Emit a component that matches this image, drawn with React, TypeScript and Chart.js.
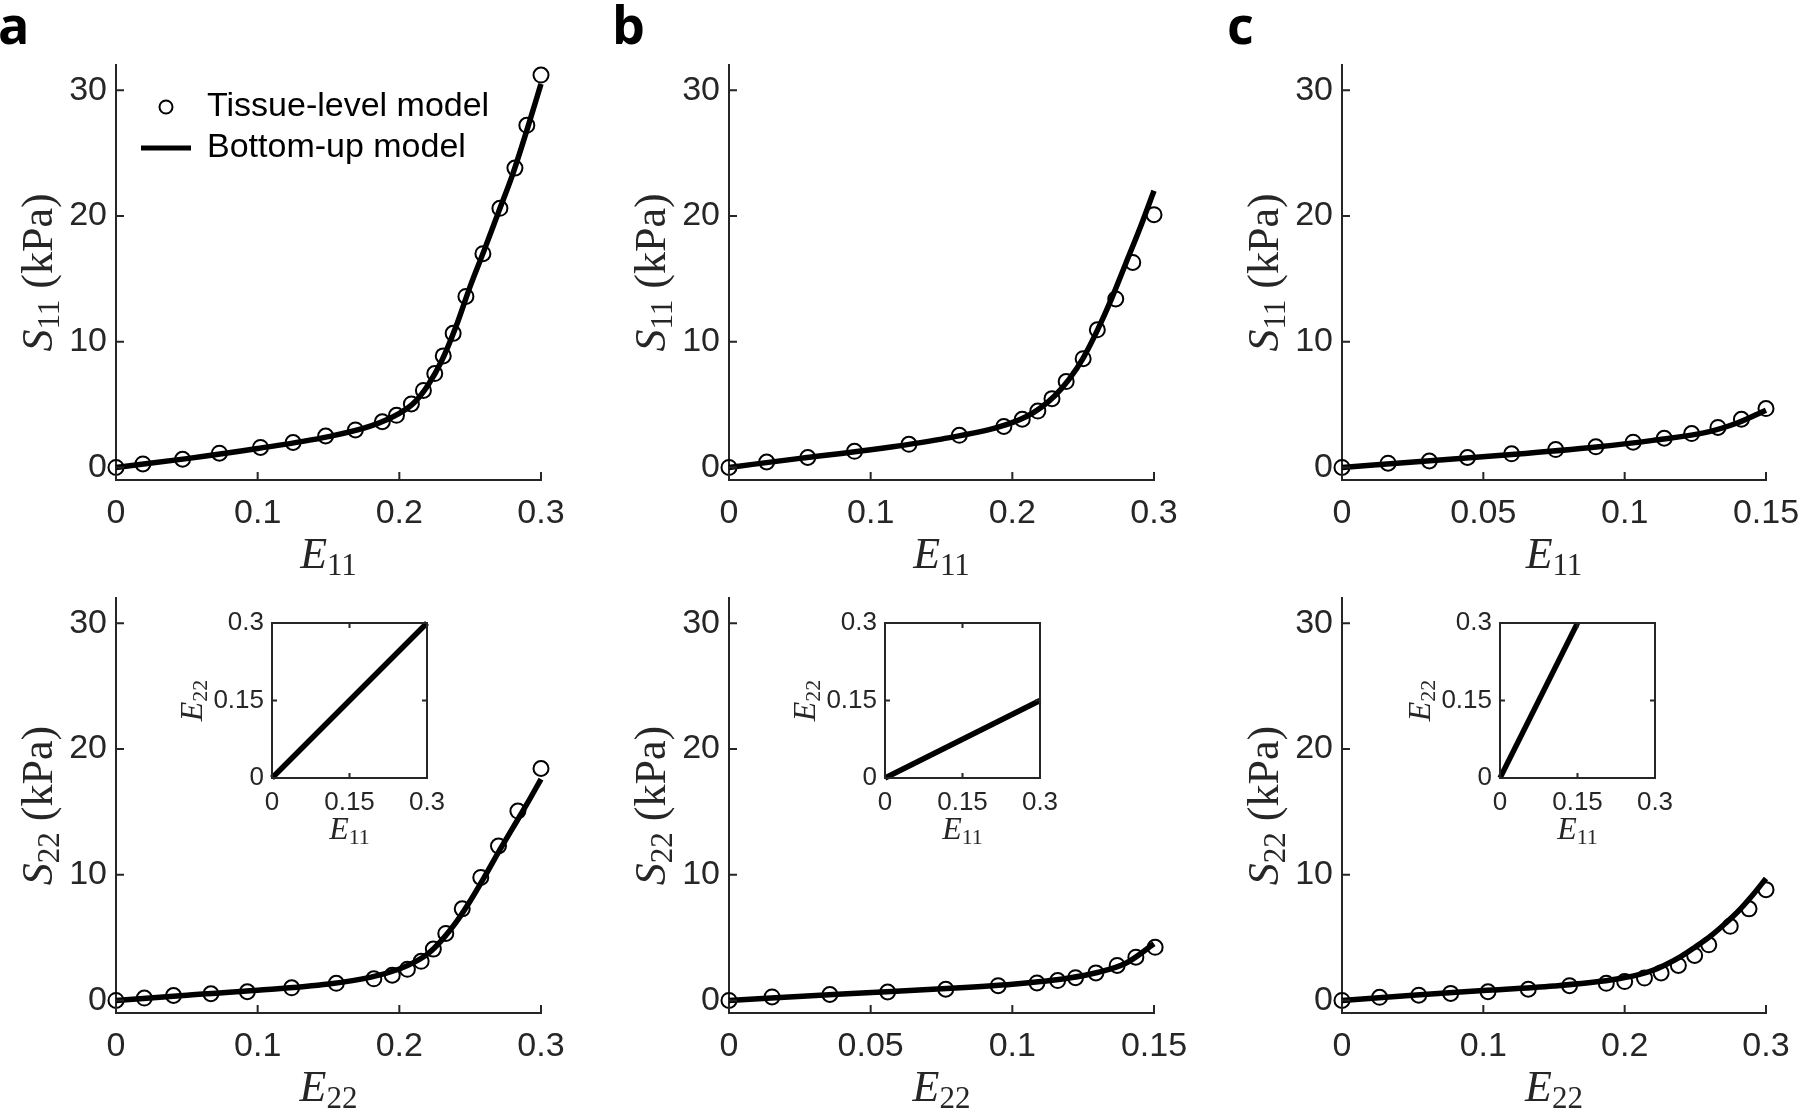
import React, { useEffect, useRef } from 'react';
import { Chart, registerables } from 'chart.js';

Chart.register(...registerables);

// ---------------- data ----------------
// panel a, top: S11 vs E11
const aTopTissueE11 = [0, 0.019, 0.047, 0.073, 0.102, 0.125, 0.148, 0.169, 0.188, 0.198, 0.2085, 0.217, 0.225, 0.231, 0.238, 0.247, 0.259, 0.271, 0.2816, 0.29, 0.3];
const aTopTissueS11 = [0, 0.28, 0.65, 1.13, 1.59, 1.98, 2.5, 2.98, 3.63, 4.14, 5.05, 6.12, 7.46, 8.87, 10.66, 13.6, 17.0, 20.6, 23.8, 27.2, 31.2];
const aTopModelE11 = [0, 0.05, 0.1, 0.15, 0.18, 0.2, 0.21, 0.22, 0.23, 0.24, 0.25, 0.26, 0.27, 0.28, 0.29, 0.3];
const aTopModelS11 = [0, 0.7, 1.5, 2.45, 3.3, 4.3, 5.1, 6.5, 8.5, 11.2, 14.4, 17.3, 20.3, 23.3, 26.8, 30.5];

// panel b, top: S11 vs E11
const bTopTissueE11 = [0, 0.0266, 0.0556, 0.0886, 0.127, 0.1626, 0.194, 0.207, 0.218, 0.228, 0.238, 0.25, 0.26, 0.273, 0.285, 0.3];
const bTopTissueS11 = [0, 0.43, 0.79, 1.28, 1.84, 2.55, 3.26, 3.83, 4.48, 5.47, 6.83, 8.65, 10.94, 13.4, 16.3, 20.1];
const bTopModelE11 = [0, 0.05, 0.1, 0.15, 0.19, 0.21, 0.22, 0.23, 0.24, 0.25, 0.26, 0.27, 0.28, 0.29, 0.3];
const bTopModelS11 = [0, 0.72, 1.4, 2.25, 3.2, 4.05, 4.75, 5.7, 7.0, 8.7, 10.9, 13.4, 16.2, 19.0, 22.0];

// panel c, top: S11 vs E11
const cTopTissueE11 = [0, 0.0163, 0.0309, 0.0444, 0.06, 0.0756, 0.0898, 0.103, 0.114, 0.1237, 0.133, 0.1413, 0.15];
const cTopTissueS11 = [0, 0.34, 0.51, 0.79, 1.08, 1.42, 1.64, 2.01, 2.32, 2.69, 3.18, 3.83, 4.68];
const cTopModelE11 = [0, 0.03, 0.06, 0.09, 0.11, 0.13, 0.14, 0.15];
const cTopModelS11 = [0, 0.52, 1.02, 1.62, 2.15, 2.85, 3.55, 4.55];

// panel a, bottom: S22 vs E22
const aBotTissueE22 = [0, 0.02, 0.0406, 0.067, 0.0927, 0.124, 0.1555, 0.182, 0.195, 0.2057, 0.2154, 0.224, 0.2328, 0.2444, 0.2575, 0.27, 0.2837, 0.3];
const aBotTissueS22 = [0, 0.19, 0.39, 0.53, 0.69, 1.0, 1.36, 1.72, 2.0, 2.47, 3.11, 4.08, 5.33, 7.28, 9.78, 12.28, 15.06, 18.44];
const aBotModelE22 = [0, 0.05, 0.1, 0.15, 0.18, 0.2, 0.21, 0.22, 0.23, 0.24, 0.25, 0.26, 0.27, 0.28, 0.29, 0.3];
const aBotModelS22 = [0, 0.42, 0.8, 1.3, 1.85, 2.5, 3.0, 3.7, 4.8, 6.2, 7.9, 9.8, 11.8, 13.7, 15.6, 17.6];

// panel b, bottom: S22 vs E22
const bBotTissueE22 = [0, 0.0152, 0.0356, 0.056, 0.0765, 0.095, 0.1087, 0.116, 0.1223, 0.1295, 0.137, 0.1436, 0.1504];
const bBotTissueS22 = [0, 0.28, 0.47, 0.67, 0.89, 1.17, 1.39, 1.58, 1.81, 2.19, 2.78, 3.44, 4.22];
const bBotModelE22 = [0, 0.04, 0.08, 0.1, 0.11, 0.12, 0.13, 0.14, 0.15];
const bBotModelS22 = [0, 0.52, 0.98, 1.28, 1.5, 1.78, 2.22, 2.95, 4.5];

// panel c, bottom: S22 vs E22
const cBotTissueE22 = [0, 0.0266, 0.0543, 0.0769, 0.1033, 0.1318, 0.161, 0.187, 0.2, 0.214, 0.2258, 0.238, 0.2495, 0.2595, 0.2747, 0.288, 0.3];
const cBotTissueS22 = [0, 0.25, 0.42, 0.56, 0.69, 0.89, 1.17, 1.36, 1.5, 1.78, 2.19, 2.78, 3.58, 4.42, 5.89, 7.28, 8.81];
const cBotModelE22 = [0, 0.05, 0.1, 0.15, 0.19, 0.21, 0.22, 0.23, 0.24, 0.25, 0.26, 0.27, 0.28, 0.29, 0.3];
const cBotModelS22 = [0, 0.42, 0.78, 1.15, 1.62, 2.05, 2.4, 2.9, 3.5, 4.25, 5.05, 6.0, 7.05, 8.3, 9.7];

// insets: E22 vs E11
const insetAE11 = [0, 0.3];
const insetAE22 = [0, 0.3];
const insetBE11 = [0, 0.3];
const insetBE22 = [0, 0.15];
const insetCE11 = [0, 0.15];
const insetCE22 = [0, 0.3];

// ticks & labels
const stressTicks = [0, 10, 20, 30];
const strainTicks03 = [0, 0.1, 0.2, 0.3];
const strainTicks015 = [0, 0.05, 0.1, 0.15];
const insetTicks = [0, 0.15, 0.3];
const legendLabels = ['Tissue-level model', 'Bottom-up model'];
const panelLetters = ['a', 'b', 'c'];

// ---------------- styling ----------------
const AXIS_COLOR = '#262626';
const SANS = '"Liberation Sans", Arial, Helvetica, sans-serif';
const SERIF = '"Liberation Serif", "Times New Roman", serif';
const BOLD = '"Open Sans", "Liberation Sans", sans-serif';

type Part = { t: string; it?: boolean; sub?: boolean };
const S11: Part[] = [{ t: 'S', it: true }, { t: '11', sub: true }, { t: ' (kPa)' }];
const S22: Part[] = [{ t: 'S', it: true }, { t: '22', sub: true }, { t: ' (kPa)' }];
const E11: Part[] = [{ t: 'E', it: true }, { t: '11', sub: true }];
const E22: Part[] = [{ t: 'E', it: true }, { t: '22', sub: true }];

const fmt = (v: number) => String(parseFloat(Number(v).toFixed(4)));
const pts = (xs: number[], ys: number[]) => xs.map((x, i) => ({ x, y: ys[i] }));

function drawParts(ctx: CanvasRenderingContext2D, parts: Part[], size: number, x: number, y: number) {
  const font = (p: Part) => `${p.it ? 'italic ' : ''}${p.sub ? Math.round(size * 0.7) : size}px ${SERIF}`;
  const widths = parts.map((p) => {
    ctx.font = font(p);
    return ctx.measureText(p.t).width;
  });
  const total = widths.reduce((a, b) => a + b, 0);
  let cx = x - total / 2;
  ctx.textAlign = 'left';
  ctx.textBaseline = 'alphabetic';
  parts.forEach((p, i) => {
    ctx.font = font(p);
    ctx.fillText(p.t, cx, y + (p.sub ? size * 0.16 : 0));
    cx += widths[i];
  });
}

function framePlugin(o: any) {
  return {
    id: 'frame',
    afterDraw(chart: any) {
      const ctx = chart.ctx as CanvasRenderingContext2D;
      const a = chart.chartArea;
      const xs = chart.scales.x;
      const ys = chart.scales.y;
      ctx.save();
      ctx.strokeStyle = AXIS_COLOR;
      ctx.lineWidth = 2;
      ctx.lineCap = 'butt';
      ctx.beginPath();
      for (const t of xs.ticks) {
        const px = xs.getPixelForValue(t.value);
        ctx.moveTo(px, a.bottom);
        ctx.lineTo(px, a.bottom - o.tick);
        if (o.box) {
          ctx.moveTo(px, a.top);
          ctx.lineTo(px, a.top + o.tick);
        }
      }
      for (const t of ys.ticks) {
        const py = ys.getPixelForValue(t.value);
        ctx.moveTo(a.left, py);
        ctx.lineTo(a.left + o.tick, py);
        if (o.box) {
          ctx.moveTo(a.right, py);
          ctx.lineTo(a.right - o.tick, py);
        }
      }
      ctx.stroke();
      if (o.box) ctx.strokeRect(a.left, a.top, a.right - a.left, a.bottom - a.top);

      ctx.fillStyle = AXIS_COLOR;
      drawParts(ctx, o.xTitle, o.titleSize, (a.left + a.right) / 2, a.bottom + o.xTitleGap);
      ctx.save();
      ctx.translate(a.left - o.yTitleGap, (a.top + a.bottom) / 2);
      ctx.rotate(-Math.PI / 2);
      drawParts(ctx, o.yTitle, o.titleSize, 0, 0);
      ctx.restore();

      if (o.legend) {
        const cx = a.left + 50;
        const y1 = a.top + 42;
        const y2 = a.top + 83;
        ctx.strokeStyle = '#000';
        ctx.lineWidth = 2;
        ctx.beginPath();
        ctx.arc(cx, y1, 6.5, 0, Math.PI * 2);
        ctx.stroke();
        ctx.lineWidth = 5;
        ctx.beginPath();
        ctx.moveTo(a.left + 25, y2);
        ctx.lineTo(a.left + 75, y2);
        ctx.stroke();
        ctx.fillStyle = '#000';
        ctx.font = `34px ${SANS}`;
        ctx.textAlign = 'left';
        ctx.textBaseline = 'middle';
        ctx.fillText(legendLabels[0], a.left + 91, y1);
        ctx.fillText(legendLabels[1], a.left + 91, y2);
      }
      if (o.letter) {
        ctx.fillStyle = '#000';
        ctx.font = `bold 52px ${BOLD}`;
        ctx.textAlign = 'left';
        ctx.textBaseline = 'alphabetic';
        ctx.fillText(o.letter.t, o.letter.x, o.letter.y);
      }
      ctx.restore();
    },
  };
}

function axis(min: number, max: number, ticks: number[], size: number, pad: number, fit: (s: any) => void) {
  return {
    type: 'linear',
    min,
    max,
    afterBuildTicks: (s: any) => {
      s.ticks = ticks.map((v) => ({ value: v }));
    },
    afterFit: fit,
    grid: { display: false, drawTicks: false },
    border: { display: true, color: AXIS_COLOR, width: 2 },
    ticks: {
      autoSkip: false,
      maxRotation: 0,
      minRotation: 0,
      padding: pad,
      color: AXIS_COLOR,
      font: { family: SANS, size },
      callback: (v: any) => fmt(Number(v)),
    },
  };
}

type Rect = { x: number; y: number; w: number; h: number };
type Area = { l: number; t: number; r: number; b: number };

function buildChart(canvas: HTMLCanvasElement, rect: Rect, area: Area, spec: any) {
  const yW = area.l - rect.x;
  const xH = rect.y + rect.h - area.b;
  return new Chart(canvas, {
    type: 'scatter',
    data: { datasets: spec.datasets },
    options: {
      responsive: false,
      animation: false,
      devicePixelRatio: 1,
      layout: { padding: { left: 0, top: area.t - rect.y, right: rect.x + rect.w - area.r, bottom: 0 } },
      plugins: { legend: { display: false }, tooltip: { enabled: false } },
      scales: {
        x: axis(spec.xMin, spec.xMax, spec.xTicks, spec.tickSize, spec.xPad, (s: any) => {
          s.height = xH;
          s.paddingLeft = 0;
          s.paddingRight = 0;
        }),
        y: axis(spec.yMin, spec.yMax, spec.yTicks, spec.tickSize, spec.yPad, (s: any) => {
          s.width = yW;
          s.paddingTop = 0;
          s.paddingBottom = 0;
        }),
      },
    } as any,
    plugins: [framePlugin(spec.frame)],
  } as any);
}

// ---------------- layout ----------------
const COLS = [
  { l: 116, r: 541, cx: 0, letterX: -2 },
  { l: 729, r: 1154, cx: 600, letterX: 12 },
  { l: 1342, r: 1766, cx: 1200, letterX: 27 },
];
const ROWS = [
  { t: 65, b: 480, y: 0, h: 600 },
  { t: 598, b: 1013, y: 540, h: 568 },
];
const INSET_L = [272, 885, 1500];
const INSET_T = 623;
const INSET_SIZE = 155;

const mainPanels = [
  { col: 0, row: 0, xMax: 0.3, xTicks: strainTicks03, tx: aTopTissueE11, ty: aTopTissueS11, mx: aTopModelE11, my: aTopModelS11, xTitle: E11, yTitle: S11, legend: true },
  { col: 1, row: 0, xMax: 0.3, xTicks: strainTicks03, tx: bTopTissueE11, ty: bTopTissueS11, mx: bTopModelE11, my: bTopModelS11, xTitle: E11, yTitle: S11 },
  { col: 2, row: 0, xMax: 0.15, xTicks: strainTicks015, tx: cTopTissueE11, ty: cTopTissueS11, mx: cTopModelE11, my: cTopModelS11, xTitle: E11, yTitle: S11 },
  { col: 0, row: 1, xMax: 0.3, xTicks: strainTicks03, tx: aBotTissueE22, ty: aBotTissueS22, mx: aBotModelE22, my: aBotModelS22, xTitle: E22, yTitle: S22 },
  { col: 1, row: 1, xMax: 0.15, xTicks: strainTicks015, tx: bBotTissueE22, ty: bBotTissueS22, mx: bBotModelE22, my: bBotModelS22, xTitle: E22, yTitle: S22 },
  { col: 2, row: 1, xMax: 0.3, xTicks: strainTicks03, tx: cBotTissueE22, ty: cBotTissueS22, mx: cBotModelE22, my: cBotModelS22, xTitle: E22, yTitle: S22 },
];

const insetPanels = [
  { col: 0, e11: insetAE11, e22: insetAE22 },
  { col: 1, e11: insetBE11, e22: insetBE22 },
  { col: 2, e11: insetCE11, e22: insetCE22 },
];

function ChartCanvas({ rect, build }: { rect: Rect; build: (c: HTMLCanvasElement) => Chart }) {
  const ref = useRef<HTMLCanvasElement>(null);
  useEffect(() => {
    const chart = build(ref.current as HTMLCanvasElement);
    return () => chart.destroy();
  }, []);
  return (
    <canvas
      ref={ref}
      width={rect.w}
      height={rect.h}
      style={{ position: 'absolute', left: rect.x, top: rect.y, width: rect.w, height: rect.h }}
    />
  );
}

function mainBuild(p: any) {
  const c = COLS[p.col];
  const r = ROWS[p.row];
  const rect: Rect = { x: c.cx, y: r.y, w: 600, h: r.h };
  const area: Area = { l: c.l, t: r.t, r: c.r, b: r.b };
  const spec = {
    xMin: 0,
    xMax: p.xMax,
    xTicks: p.xTicks,
    yMin: -1,
    yMax: 32,
    yTicks: stressTicks,
    tickSize: 34,
    xPad: 13,
    yPad: 9,
    datasets: [
      {
        type: 'scatter',
        data: pts(p.tx, p.ty),
        showLine: false,
        pointStyle: 'circle',
        pointRadius: 7.5,
        pointBorderWidth: 2,
        pointBorderColor: '#000',
        pointBackgroundColor: 'rgba(0,0,0,0)',
        borderColor: '#000',
        backgroundColor: 'rgba(0,0,0,0)',
        clip: false,
      },
      {
        type: 'line',
        data: pts(p.mx, p.my),
        borderColor: '#000',
        borderWidth: 5.5,
        pointRadius: 0,
        fill: false,
        cubicInterpolationMode: 'monotone',
        clip: false,
      },
    ],
    frame: {
      box: false,
      tick: 8,
      xTitle: p.xTitle,
      yTitle: p.yTitle,
      titleSize: 44,
      xTitleGap: 88,
      yTitleGap: 64,
      legend: !!p.legend,
      letter: p.row === 0 ? { t: panelLetters[p.col], x: c.letterX, y: 44 } : null,
    },
  };
  return { rect, build: (cv: HTMLCanvasElement) => buildChart(cv, rect, area, spec) };
}

function insetBuild(p: any) {
  const l = INSET_L[p.col];
  const area: Area = { l, t: INSET_T, r: l + INSET_SIZE, b: INSET_T + INSET_SIZE };
  const rect: Rect = { x: l - 115, y: 600, w: 115 + INSET_SIZE + 25, h: 260 };
  const spec = {
    xMin: 0,
    xMax: 0.3,
    xTicks: insetTicks,
    yMin: 0,
    yMax: 0.3,
    yTicks: insetTicks,
    tickSize: 26,
    xPad: 9,
    yPad: 8,
    datasets: [
      {
        type: 'line',
        data: pts(p.e11, p.e22),
        borderColor: '#000',
        borderWidth: 5.5,
        pointRadius: 0,
        fill: false,
        clip: false,
      },
    ],
    frame: {
      box: true,
      tick: 5,
      xTitle: E11,
      yTitle: E22,
      titleSize: 32,
      xTitleGap: 61,
      yTitleGap: 70,
      legend: false,
      letter: null,
    },
  };
  return { rect, build: (cv: HTMLCanvasElement) => buildChart(cv, rect, area, spec) };
}

export default function App() {
  const mains = mainPanels.map(mainBuild);
  const insets = insetPanels.map(insetBuild);
  return (
    <div style={{ position: 'absolute', left: 0, top: 0, width: 1800, height: 1108, background: '#fff', overflow: 'hidden' }}>
      {mains.map((m, i) => (
        <ChartCanvas key={'m' + i} rect={m.rect} build={m.build} />
      ))}
      {insets.map((m, i) => (
        <ChartCanvas key={'i' + i} rect={m.rect} build={m.build} />
      ))}
    </div>
  );
}
